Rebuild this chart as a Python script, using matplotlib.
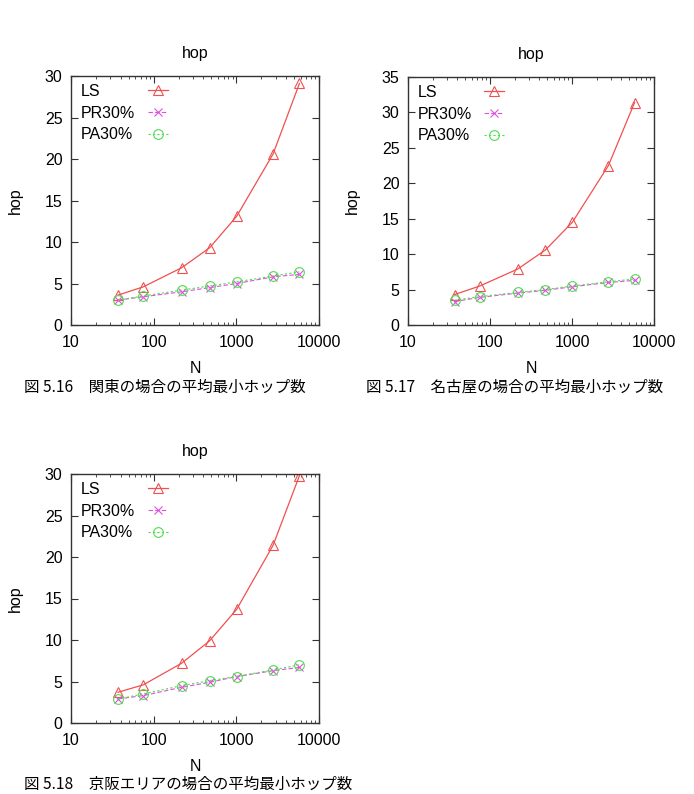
import matplotlib
matplotlib.use('Agg')
import matplotlib.pyplot as plt
from matplotlib.lines import Line2D
from matplotlib.ticker import LogLocator, FixedLocator, NullFormatter

plt.rcParams['font.family'] = ['Liberation Sans', 'DejaVu Sans']

# node counts (x axis, log scale)
n_nodes = [37, 75, 218, 475, 1010, 2780, 5800]

# 関東
kanto_ls = [3.6, 4.6, 6.9, 9.3, 13.1, 20.6, 29.1]
kanto_pr = [3.0, 3.4, 4.0, 4.5, 5.0, 5.8, 6.1]
kanto_pa = [3.0, 3.5, 4.2, 4.7, 5.2, 5.9, 6.4]

# 名古屋
nagoya_ls = [4.3, 5.5, 7.9, 10.6, 14.5, 22.5, 31.4]
nagoya_pr = [3.3, 3.9, 4.5, 4.9, 5.4, 6.0, 6.3]
nagoya_pa = [3.5, 4.0, 4.6, 5.0, 5.5, 6.1, 6.5]

# 京阪エリア
keihan_ls = [3.7, 4.6, 7.2, 9.9, 13.7, 21.4, 29.8]
keihan_pr = [2.9, 3.3, 4.3, 4.9, 5.6, 6.3, 6.7]
keihan_pa = [2.9, 3.5, 4.5, 5.1, 5.6, 6.4, 7.0]

series_names = ['LS', 'PR30%', 'PA30%']
y_max = [30, 35, 30]
captions = ['図 5.16　関東の場合の平均最小ホップ数',
            '図 5.17　名古屋の場合の平均最小ホップ数',
            '図 5.18　京阪エリアの場合の平均最小ホップ数']

W, H = 694, 794
FS = 11.5
fig = plt.figure(figsize=(W / 100, H / 100), dpi=100)


def px_axes(left, top, right, bottom):
    return fig.add_axes([left / W, 1 - bottom / H, (right - left) / W, (bottom - top) / H])


def draw(ax, ls, pr, pa, ymax):
    l1, = ax.plot(n_nodes, ls, color='#f05050', lw=0.9, marker='^', ms=7, mfc='none',
                  mew=0.8)
    l2, = ax.plot(n_nodes, pr, color='#e050e0', lw=0.8, ls=(0, (4, 2)), marker='x', ms=6,
                  mew=0.8)
    l3, = ax.plot(n_nodes, pa, color='#50dd50', lw=0.8, ls=(0, (2, 2)), marker='o', ms=7,
                  mfc='none', mew=0.8)
    ax.set_xscale('log')
    ax.set_xlim(10, 10000)
    ax.set_ylim(0, ymax)
    ax.xaxis.set_major_locator(FixedLocator([10, 100, 1000, 10000]))
    ax.set_xticklabels(['10', '100', '1000', '10000'])
    ax.xaxis.set_minor_locator(LogLocator(base=10, subs=range(2, 10)))
    ax.xaxis.set_minor_formatter(NullFormatter())
    ax.set_yticks(range(0, ymax + 1, 5))
    ax.tick_params(axis='both', which='major', direction='in', length=5, width=0.8,
                   top=True, right=True, labelsize=FS, color='#333333')
    ax.tick_params(axis='x', which='major', pad=7)
    ax.tick_params(axis='y', which='major', pad=6)
    ax.tick_params(axis='x', which='minor', direction='in', length=2.5, width=0.6,
                   top=True, color='#333333')
    for s in ax.spines.values():
        s.set_linewidth(1.0)
        s.set_color('#333333')
    ax.set_title('hop', fontsize=FS, pad=13)
    ax.set_xlabel('N', fontsize=FS)
    ax.set_ylabel('hop', fontsize=FS)
    ax.xaxis.set_label_coords(0.5, -0.145)
    ax.yaxis.set_label_coords(-0.195, 0.5)

    # gnuplot style key: left aligned text, samples in a column to the right
    blank = [Line2D([], [], alpha=0) for _ in series_names]
    leg_text = ax.legend(blank, series_names, loc='upper left', bbox_to_anchor=(0.04, 0.968),
                         frameon=False, fontsize=FS, handlelength=0, handletextpad=0,
                         labelspacing=0.42, borderpad=0, borderaxespad=0)
    ax.add_artist(leg_text)
    leg_keys = ax.legend([l1, l2, l3], series_names, loc='upper left',
                         bbox_to_anchor=(0.31, 0.968), frameon=False, fontsize=FS,
                         handlelength=1.25, handletextpad=0.2, labelspacing=0.42,
                         borderpad=0, borderaxespad=0)
    for t in leg_keys.get_texts():
        t.set_color('none')


ax1 = px_axes(71, 76, 319, 325)
draw(ax1, kanto_ls, kanto_pr, kanto_pa, y_max[0])
ax2 = px_axes(408, 77, 654, 325)
draw(ax2, nagoya_ls, nagoya_pr, nagoya_pa, y_max[1])
ax3 = px_axes(71, 474, 319, 723)
draw(ax3, keihan_ls, keihan_pr, keihan_pa, y_max[2])

cap_font = ['Noto Sans CJK JP', 'DejaVu Sans']
fig.text(24 / W, 1 - 387 / H, captions[0], fontsize=11.2, family=cap_font, va='center')
fig.text(366 / W, 1 - 387 / H, captions[1], fontsize=11.2, family=cap_font, va='center')
fig.text(24 / W, 1 - 784 / H, captions[2], fontsize=11.2, family=cap_font, va='center')

fig.savefig('out.png', dpi=100)
